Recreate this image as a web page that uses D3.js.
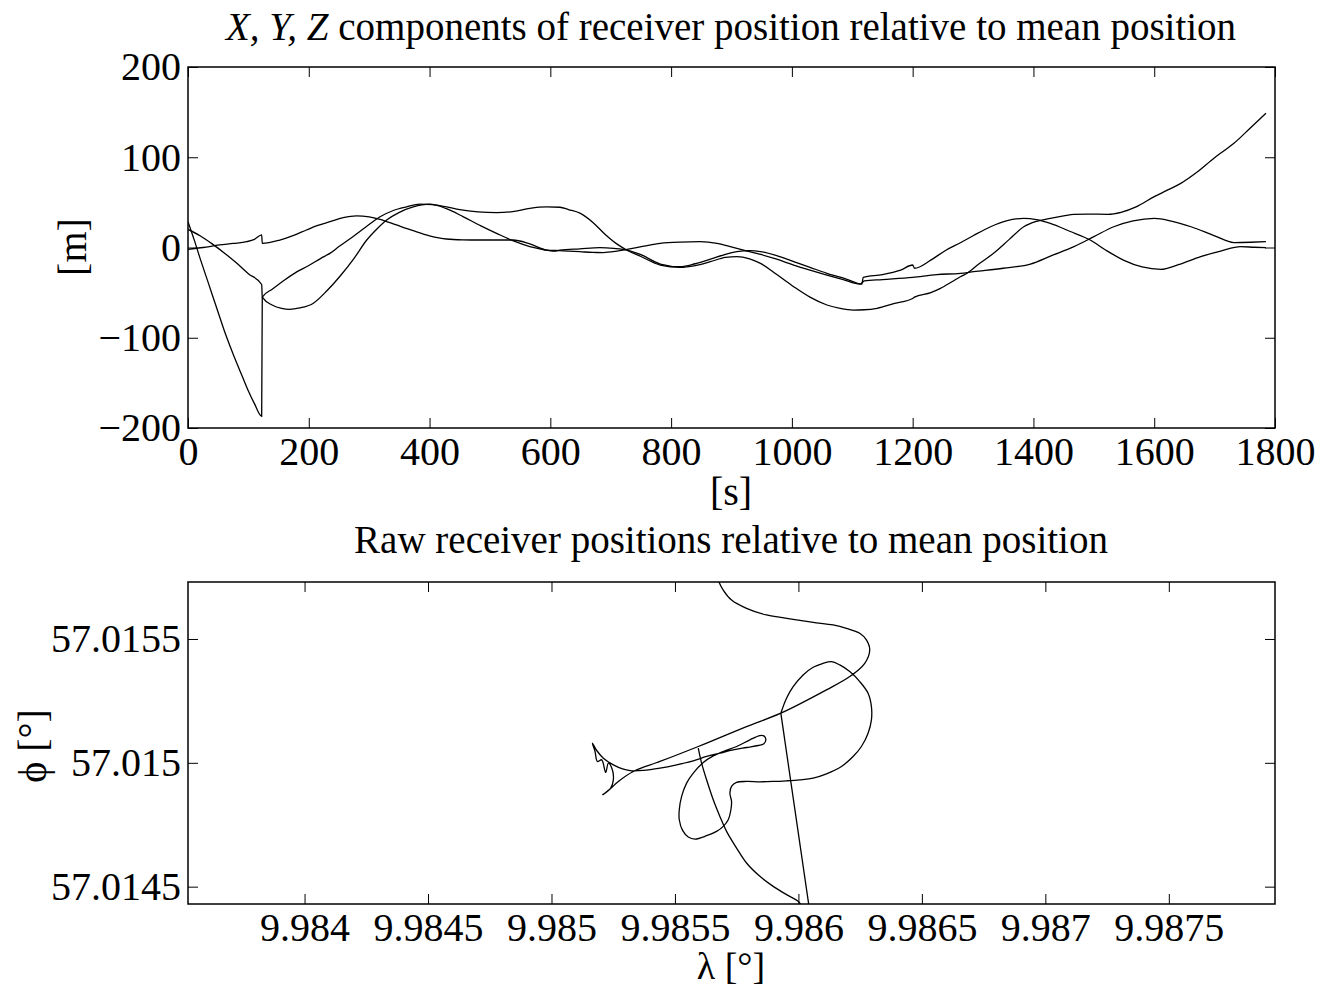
<!DOCTYPE html>
<html>

<head>
    <meta charset="UTF-8">
    <title>Receiver position</title>
    <style type="text/css">
        body {
            margin: 0;
            background: #fff;
        }

        svg text {
            font-family: "Liberation Serif", "Times New Roman", serif;
            fill: #000;
        }

        .tick text {
            font-size: 40px;
        }

        .tick line {
            stroke: #000;
            stroke-width: 1;
        }

        .frame {
            fill: none;
            stroke: #000;
            stroke-width: 1.5;
        }

        .trace {
            fill: none;
            stroke: #000;
            stroke-width: 1.3;
        }
    </style>
    <script src="https://d3js.org/d3.v7.min.js"></script>
</head>

<body>
    <script type="text/javascript">
        // ---- top panel: X, Y, Z components [m] against time [s]
        const compXt = [0, 10, 20, 30, 40, 50, 60, 70, 80, 90, 100, 110, 122, 123, 140, 160, 180, 200, 220, 235, 250, 273, 295, 318, 340, 362, 384, 405, 428, 450, 480, 511, 540, 566, 594, 616, 630, 649, 670, 690, 710, 727, 750, 782, 815, 840, 865, 890, 909, 930, 948, 975, 1003, 1030, 1058, 1080, 1102, 1120, 1141, 1170, 1200, 1203, 1230, 1246, 1265, 1279, 1290, 1310, 1334, 1360, 1384, 1405, 1428, 1450, 1467, 1490, 1523, 1545, 1570, 1600, 1620, 1644, 1670, 1699, 1715, 1732, 1760, 1785];
        const compX = [28.6, 9, -12, -32, -52, -72, -92, -110, -127, -143, -159, -173, -187, -55, -46, -36, -27, -20, -12, -6.5, 1, 12, 23, 34, 41, 45, 48, 47.5, 45, 42, 39.5, 38.6, 40, 43.4, 45, 44.6, 42, 38, 28, 15, 4, -3, -10, -19.4, -22, -20, -15.7, -11, -10, -12.5, -17.6, -30, -43.4, -55, -63.7, -67.5, -69.3, -69, -67.4, -62, -56.5, -55, -50, -45.3, -38, -32.4, -28.6, -18, -6.4, 9, 23, 29, 32.3, 35, 36.8, 37, 36.8, 39, 45, 56.3, 63, 71, 83, 99, 107, 115.5, 133, 148.8];

        const compYt = [0, 20, 40, 60, 80, 100, 122, 123, 140, 155, 168, 185, 207, 230, 251, 275, 296, 312, 329, 350, 373, 400, 428, 456, 485, 511, 540, 566, 590, 605, 616, 649, 682, 705, 727, 750, 782, 815, 840, 865, 890, 909, 930, 948, 975, 1003, 1030, 1058, 1090, 1116, 1118, 1150, 1180, 1200, 1203, 1230, 1255, 1279, 1300, 1329, 1355, 1384, 1405, 1428, 1460, 1494, 1520, 1549, 1580, 1611, 1640, 1677, 1710, 1743, 1765, 1785];
        const compY = [20, 13, 4, -6, -17, -29, -41, -55, -64, -67.5, -68.5, -67, -62, -48, -32.4, -12, 8.3, 20, 30.5, 39, 45, 48, 43, 34, 24, 15.7, 7, 1, -2.5, -4, -3, -1.5, -0.2, -1, -2.8, -8, -18.3, -21.3, -18, -13, -7.5, -4.6, -3.5, -4.5, -9, -15.7, -22, -28.6, -35, -40.5, -33, -30, -25, -19.4, -23, -14, -3, 5.3, 13, 23, 29.5, 32.3, 31, 26.8, 18, 8.3, -3, -13.9, -21.5, -24.2, -19, -10, -4, 0.9, 0.3, -0.2];

        const compZt = [0, 25, 52, 75, 97, 110, 122, 123, 152, 175, 196, 215, 235, 257, 279, 300, 318, 345, 373, 400, 428, 455, 483, 510, 538, 566, 594, 616, 649, 670, 688, 710, 727, 755, 782, 815, 848, 876, 898, 920, 950, 975, 1003, 1030, 1058, 1085, 1113, 1120, 1150, 1200, 1240, 1279, 1301, 1350, 1395, 1430, 1467, 1500, 1533, 1565, 1600, 1630, 1661, 1700, 1732, 1760, 1785];
        const compZ = [-2, 0, 2.8, 4.5, 6.4, 9, 13.9, 4.6, 8.3, 13.5, 19.4, 24.5, 28.6, 33, 35, 34, 31.3, 25, 18.6, 13, 9.4, 8.5, 8.3, 8.3, 8.3, 4, -2.8, -3.5, -4.6, -5.5, -5.6, -4, -2, 1.5, 4.6, 6, 6.4, 4.6, 1, -2.8, -8, -13, -19.4, -25, -30.5, -35.5, -40.5, -37, -35.5, -33, -30, -28.6, -26.8, -23, -18.3, -9, 0.9, 12, 23, 29.5, 32.3, 29, 23, 13, 5.5, 5.8, 6.4];

        const timeTicks = [0, 200, 400, 600, 800, 1000, 1200, 1400, 1600, 1800];
        const metreTicks = [-200, -100, 0, 100, 200];

        // ---- bottom panel: raw positions, longitude / latitude [deg]
        const lambda = [9.9855944, 9.9856079, 9.9856281, 9.9856551, 9.985682, 9.985709, 9.9857495, 9.9857899, 9.9858439, 9.9858978, 9.9859518, 9.9859989, 9.9860259, 9.9860448,
            9.9859288, 9.9859518, 9.9859787, 9.9860191, 9.9860596, 9.9861, 9.9861338, 9.9861675, 9.9862079, 9.9862484, 9.9862821, 9.9862956, 9.9862956, 9.9862821, 9.9862551, 9.9862214, 9.9861742, 9.9861135, 9.9860596, 9.9860057, 9.9859518, 9.9858978, 9.9858439, 9.9857899, 9.9857495, 9.9857292, 9.9857225, 9.9857292, 9.9857265, 9.9857157, 9.9856955, 9.9856686, 9.9856281, 9.9855809, 9.9855539, 9.985531, 9.9855175, 9.9855175, 9.985527, 9.9855472, 9.9855742, 9.9856146, 9.9856551, 9.9856955, 9.9857495, 9.9858034, 9.9858439, 9.98586, 9.9858681, 9.98586, 9.9858371, 9.9857899, 9.985736, 9.985682, 9.9856281, 9.9855742, 9.9855068, 9.9854393, 9.9853719, 9.9853247, 9.985291, 9.9852505, 9.9852101, 9.9851831, 9.9851656,
            9.9851764, 9.9851858, 9.9852033, 9.9852195, 9.9852303, 9.9852465, 9.9852505, 9.9852398, 9.9852074, 9.9852371, 9.9852708, 9.9853314, 9.9854393, 9.9855944, 9.9857899, 9.9859288, 9.9861135, 9.9862079, 9.9862686, 9.9862888, 9.9862753, 9.9862484, 9.9861945, 9.9861405, 9.9860596, 9.9859787, 9.9858708, 9.9857899, 9.9857292, 9.9856955, 9.9856753, 9.9856686];
        const phi = [57.0150591, 57.0149987, 57.0149314, 57.0148508, 57.0147836, 57.0147231, 57.0146559, 57.0145954, 57.0145417, 57.0145013, 57.0144677, 57.0144409, 57.0144073, 57.0144073,
            57.0152003, 57.0152608, 57.0153078, 57.0153548, 57.0153858, 57.0154019, 57.0154086, 57.0153952, 57.0153683, 57.015328, 57.0152809, 57.0152271, 57.0151734, 57.0151196, 57.0150659, 57.0150255, 57.0149852, 57.0149556, 57.0149382, 57.0149314, 57.0149274, 57.0149247, 57.0149234, 57.0149247, 57.0149207, 57.0149046, 57.0148777, 57.0148441, 57.0148105, 57.0147702, 57.0147433, 57.0147231, 57.0147056, 57.0146922, 57.0147003, 57.0147271, 57.0147702, 57.0148105, 57.0148642, 57.014918, 57.0149583, 57.0150013, 57.0150282, 57.0150457, 57.0150659, 57.0150927, 57.0151102, 57.0151089, 57.0150954, 57.0150766, 57.0150699, 57.0150618, 57.0150524, 57.015039, 57.0150255, 57.0150081, 57.0149919, 57.0149785, 57.0149691, 57.0149677, 57.0149745, 57.0149919, 57.0150188, 57.0150497, 57.0150793,
            57.0150457, 57.0150054, 57.0150121, 57.014961, 57.0149987, 57.0149718, 57.0149314, 57.0148979, 57.014871, 57.0148938, 57.0149247, 57.014965, 57.0150054, 57.0150659, 57.0151465, 57.0152003, 57.0152944, 57.0153481, 57.0154019, 57.0154556, 57.015496, 57.0155229, 57.015543, 57.0155565, 57.0155672, 57.0155793, 57.0155968, 57.0156237, 57.0156573, 57.0156976, 57.0157379, 57.0157782];

        const lambdaTicks = [9.984, 9.9845, 9.985, 9.9855, 9.986, 9.9865, 9.987, 9.9875];
        const lambdaLabels = ["9.984", "9.9845", "9.985", "9.9855", "9.986", "9.9865", "9.987", "9.9875"];
        const phiTicks = [57.0145, 57.015, 57.0155];
        const phiLabels = ["57.0145", "57.015", "57.0155"];

        const svg = d3.select("body")
            .append("svg")
            .attr("width", 1322)
            .attr("height", 992);

        // draws one boxed panel with inward ticks on all four sides
        function panel(id, box, x, y, xTicks, xFmt, yTicks, yFmt) {
            const g = svg.append("g").attr("transform", `translate(${box.left},${box.top})`);
            const w = box.right - box.left, h = box.bottom - box.top;

            g.append("clipPath").attr("id", id)
                .append("rect").attr("width", w).attr("height", h);

            g.append("g")
                .attr("transform", `translate(0,${h})`)
                .call(d3.axisBottom(x).tickValues(xTicks).tickFormat(xFmt).tickSize(-10).tickPadding(9));
            g.append("g")
                .call(d3.axisTop(x).tickValues(xTicks).tickFormat("").tickSize(-10));
            g.append("g")
                .call(d3.axisLeft(y).tickValues(yTicks).tickFormat(yFmt).tickSize(-10).tickPadding(7));
            g.append("g")
                .attr("transform", `translate(${w},0)`)
                .call(d3.axisRight(y).tickValues(yTicks).tickFormat("").tickSize(-10));
            g.selectAll(".domain").remove();

            g.append("rect").attr("class", "frame").attr("width", w).attr("height", h);
            return g;
        }

        // ---- top panel
        const topBox = { left: 188, right: 1275, top: 67, bottom: 428 };
        const xT = d3.scaleLinear().domain([0, 1800]).range([0, topBox.right - topBox.left]);
        const yT = d3.scaleLinear().domain([-200, 200]).range([topBox.bottom - topBox.top, 0]);
        const gTop = panel("clipTop", topBox, xT, yT, timeTicks, d3.format("d"), metreTicks, d => d3.format("d")(d));

        const lineT = d3.line().x(d => xT(d[0])).y(d => yT(d[1])).curve(d3.curveMonotoneX);
        [[compXt, compX], [compYt, compY], [compZt, compZ]].forEach(([t, v]) => {
            gTop.append("path")
                .datum(t.map((ti, i) => [ti, v[i]]))
                .attr("class", "trace")
                .attr("clip-path", "url(#clipTop)")
                .attr("d", lineT);
        });

        const topTitle = svg.append("text")
            .attr("x", 731).attr("y", 40)
            .attr("text-anchor", "middle")
            .style("font-size", "39px");
        topTitle.append("tspan").style("font-style", "italic").text("X, Y, Z");
        topTitle.append("tspan").text(" components of receiver position relative to mean position");

        svg.append("text")
            .attr("x", 731).attr("y", 505)
            .attr("text-anchor", "middle")
            .style("font-size", "40px")
            .text("[s]");

        svg.append("text")
            .attr("transform", "translate(86,247) rotate(-90)")
            .attr("text-anchor", "middle")
            .style("font-size", "40px")
            .text("[m]");

        // ---- bottom panel
        const botBox = { left: 188, right: 1275, top: 582, bottom: 904 };
        const xB = d3.scaleLinear().domain([9.983528, 9.98793]).range([0, botBox.right - botBox.left]);
        const yB = d3.scaleLinear().domain([57.01443, 57.01573]).range([botBox.bottom - botBox.top, 0]);
        const gBot = panel("clipBot", botBox, xB, yB,
            lambdaTicks, (d, i) => lambdaLabels[i],
            phiTicks, (d, i) => phiLabels[i]);

        const lineB = d3.line().x(d => xB(d[0])).y(d => yB(d[1])).curve(d3.curveCatmullRom.alpha(0.5));
        // the fix jump is a straight chord: draw the first leg, the jump and the rest
        const pts = lambda.map((l, i) => [l, phi[i]]);
        gBot.append("path")
            .datum(pts.slice(0, 14))
            .attr("class", "trace")
            .attr("clip-path", "url(#clipBot)")
            .attr("d", lineB);
        gBot.append("path")
            .datum(pts.slice(13, 15))
            .attr("class", "trace")
            .attr("clip-path", "url(#clipBot)")
            .attr("d", d3.line().x(d => xB(d[0])).y(d => yB(d[1])));
        gBot.append("path")
            .datum(pts.slice(14))
            .attr("class", "trace")
            .attr("clip-path", "url(#clipBot)")
            .attr("d", lineB);

        svg.append("text")
            .attr("x", 731).attr("y", 553)
            .attr("text-anchor", "middle")
            .style("font-size", "39px")
            .text("Raw receiver positions relative to mean position");

        svg.append("text")
            .attr("x", 731).attr("y", 979)
            .attr("text-anchor", "middle")
            .style("font-size", "38px")
            .text("λ [°]");

        svg.append("text")
            .attr("transform", "translate(46,746) rotate(-90)")
            .attr("text-anchor", "middle")
            .style("font-size", "40px")
            .text("ϕ [°]");
    </script>
</body>

</html>
